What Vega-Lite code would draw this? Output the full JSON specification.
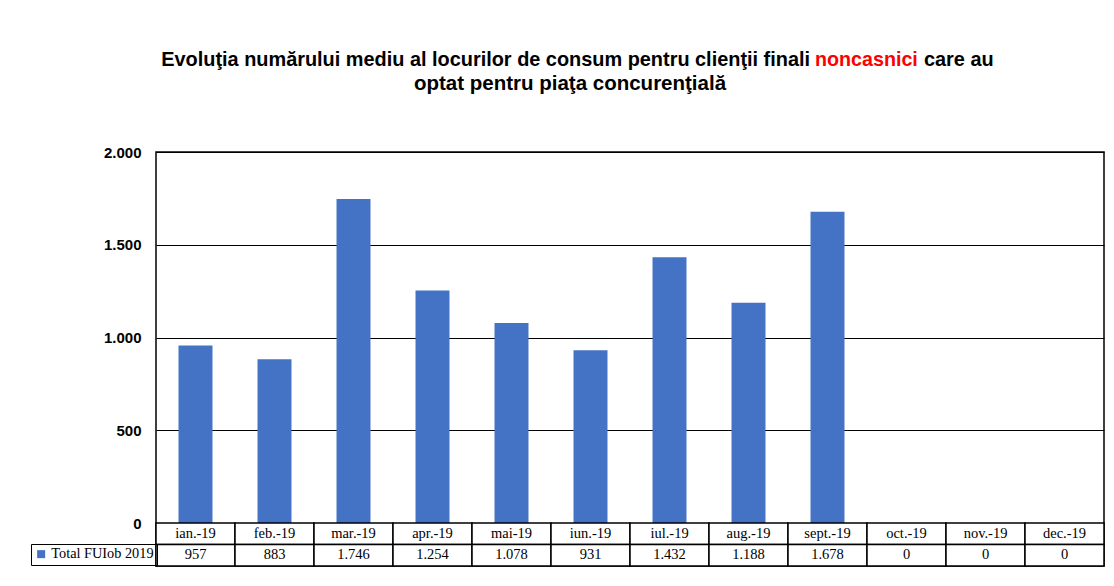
{
  "$schema": "https://vega.github.io/schema/vega-lite/v6.json",
  "width": 948,
  "height": 414,
  "autosize": {"type": "none"},
  "padding": {"left": 156, "top": 152, "right": 10, "bottom": 20},
  "background": "white",
  "config": {
    "locale": {"number": {"decimal": ",", "thousands": ".", "grouping": [3], "currency": ["", ""]}},
    "view": {"stroke": "black", "strokeWidth": 1.5},
    "font": "Liberation Sans"
  },
  "data": {
    "values": [
      {"month": "ian.-19", "value": 957},
      {"month": "feb.-19", "value": 883},
      {"month": "mar.-19", "value": 1746},
      {"month": "apr.-19", "value": 1254},
      {"month": "mai-19", "value": 1078},
      {"month": "iun.-19", "value": 931},
      {"month": "iul.-19", "value": 1432},
      {"month": "aug.-19", "value": 1188},
      {"month": "sept.-19", "value": 1678},
      {"month": "oct.-19", "value": 0},
      {"month": "nov.-19", "value": 0},
      {"month": "dec.-19", "value": 0}
    ]
  },
  "encoding": {
    "x": {"field": "month", "type": "nominal", "sort": null, "scale": {"paddingInner": 0, "paddingOuter": 0}, "axis": null}
  },
  "layer": [
    {
      "mark": {"type": "bar", "width": {"band": 0.43}},
      "encoding": {
        "y": {
          "field": "value", "type": "quantitative",
          "scale": {"domain": [-231.8, 2000], "nice": false, "zero": false},
          "axis": {
            "values": [0, 500, 1000, 1500, 2000], "format": ",.0f", "title": null,
            "grid": true, "gridColor": "black", "gridOpacity": 1, "gridWidth": 1,
            "domain": false, "ticks": false,
            "labelFont": "Liberation Sans", "labelFontWeight": "bold", "labelFontSize": 15,
            "labelColor": "black", "labelPadding": 15
          }
        },
        "y2": {"datum": 0},
        "color": {
          "datum": "Total FUIob 2019",
          "scale": {"range": ["#4472C4"]},
          "legend": {
            "orient": "none", "legendX": -125, "legendY": 392, "title": null,
            "symbolType": "square", "symbolSize": 64, "symbolStrokeWidth": 0,
            "labelFont": "Liberation Serif", "labelFontSize": 14.3, "labelColor": "black",
            "labelOffset": 3, "padding": 3, "strokeColor": "black"
          }
        }
      }
    },
    {
      "mark": {"type": "rect", "fill": "white", "stroke": "black", "strokeWidth": 1.5},
      "encoding": {"y": {"datum": 0}, "y2": {"datum": -115.9}}
    },
    {
      "mark": {"type": "rect", "fill": "white", "stroke": "black", "strokeWidth": 1.5},
      "encoding": {"y": {"datum": -115.9}, "y2": {"datum": -231.8}}
    },
    {
      "mark": {"type": "text", "font": "Liberation Serif", "fontSize": 14.5, "color": "black", "baseline": "middle"},
      "encoding": {"y": {"datum": -58}, "text": {"field": "month"}}
    },
    {
      "mark": {"type": "text", "font": "Liberation Serif", "fontSize": 14.5, "color": "black", "baseline": "middle"},
      "encoding": {"y": {"datum": -174}, "text": {"field": "value", "format": ",.0f"}}
    },
    {
      "data": {"values": [{"t": "Evoluţia numărului mediu al locurilor de consum pentru clienţii finali"}]},
      "mark": {"type": "text", "align": "right", "baseline": "alphabetic", "font": "Liberation Sans", "fontSize": 19.9, "fontWeight": "bold", "color": "black"},
      "encoding": {"text": {"field": "t"}, "x": {"value": 654}, "y": {"value": -86}}
    },
    {
      "data": {"values": [{"t": "noncasnici"}]},
      "mark": {"type": "text", "align": "left", "baseline": "alphabetic", "font": "Liberation Sans", "fontSize": 19.7, "fontWeight": "bold", "color": "#FF0000"},
      "encoding": {"text": {"field": "t"}, "x": {"value": 659}, "y": {"value": -86}}
    },
    {
      "data": {"values": [{"t": "care au"}]},
      "mark": {"type": "text", "align": "left", "baseline": "alphabetic", "font": "Liberation Sans", "fontSize": 19.9, "fontWeight": "bold", "color": "black"},
      "encoding": {"text": {"field": "t"}, "x": {"value": 768}, "y": {"value": -86}}
    },
    {
      "data": {"values": [{"t": "optat pentru piaţa concurenţială"}]},
      "mark": {"type": "text", "align": "center", "baseline": "alphabetic", "font": "Liberation Sans", "fontSize": 20.5, "fontWeight": "bold", "color": "black"},
      "encoding": {"text": {"field": "t"}, "x": {"value": 414}, "y": {"value": -62}}
    }
  ]
}
